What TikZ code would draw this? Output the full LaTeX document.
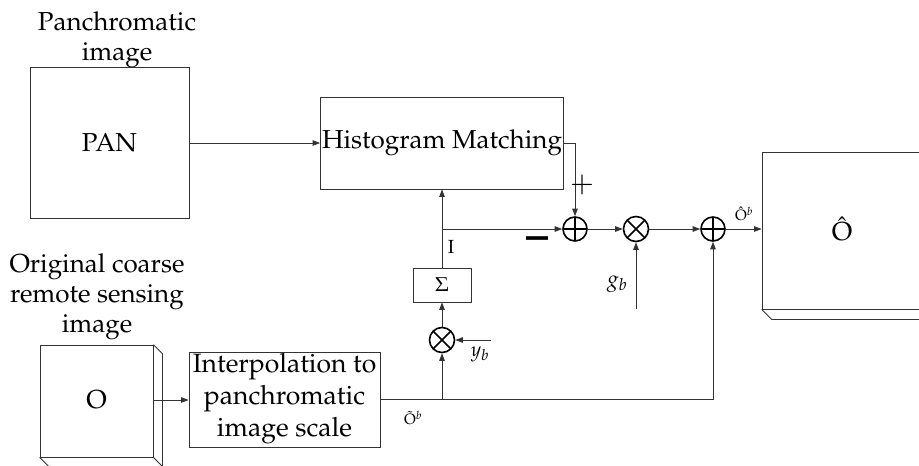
\documentclass[tikz,border=0pt]{standalone}
\usepackage[T1]{fontenc}
\usepackage{mathpazo}
\usetikzlibrary{arrows.meta}

\tikzset{
  wire/.style={draw=black!80, line width=0.8pt},
  arr/.style={wire, -{Triangle[length=7.5pt,width=5.5pt]}},
  blockbox/.style={draw=black!80, line width=0.8pt, rectangle, inner sep=0pt},
  bigtext/.style={font=\fontsize{26}{30}\selectfont, align=center, inner sep=0pt},
  sumnode/.style={circle, draw=black, line width=1.6pt, minimum size=24pt, inner sep=0pt,
    path picture={\draw[line width=1.5pt]
      (path picture bounding box.north) -- (path picture bounding box.south)
      (path picture bounding box.west) -- (path picture bounding box.east);}},
  mulnode/.style={circle, draw=black, line width=1.6pt, minimum size=25pt, inner sep=0pt,
    path picture={\draw[line width=1.5pt]
      (path picture bounding box.north west) -- (path picture bounding box.south east)
      (path picture bounding box.south west) -- (path picture bounding box.north east);}},
}

\begin{document}
\begin{tikzpicture}[x=1pt, y=-1pt]
\useasboundingbox (0,0) rectangle (919,466);
\clip (0,0) rectangle (919,466);

% blocks
\node[blockbox, minimum width=159pt, minimum height=151pt] (pan) at (109.5,142.5) {};
\node[bigtext] (pantext) at (109.5,143) {PAN};
\node[bigtext] (pantitle) at (117,40) {Panchromatic\\image};

\node[blockbox, minimum width=243pt, minimum height=92pt] (hist) at (442,143) {};
\node[bigtext] (histtext) at (442,143) {Histogram Matching};

\node[blockbox, minimum width=58pt, minimum height=34pt, font=\fontsize{20}{24}\selectfont] (sig) at (442,285) {$\Sigma$};

\node[blockbox, minimum width=191pt, minimum height=95pt] (interp) at (284.5,400) {};
\node[bigtext, font=\fontsize{26.5}{32}\selectfont] (interptext) at (284.5,399) {Interpolation to\\panchromatic\\image scale};

% original image (3D box)
\node[blockbox, minimum width=113pt, minimum height=112pt] (obox) at (96.5,401) {};
\node[bigtext] (otext) at (96.5,400) {O};
\node[bigtext] (otitle) at (97,297) {Original coarse\\remote sensing\\image};
\draw[wire] (obox.north east) -- ++(9,9) -- ++(0,130);
\draw[wire] (obox.south east) -- ++(9,9);
\draw[wire] (obox.south west) -- ++(9,9) -- ++(120,0);

% fused image (3D box)
\node[blockbox, minimum width=238pt, minimum height=157pt] (ohat) at (881,230.5) {};
\node[bigtext] (ohattext) at (842,229) {\^O};
\draw[wire] (ohat.south west) -- ++(10,10) -- ++(300,0);

% operators
\node[sumnode] (add1) at (575,229) {};
\node[mulnode] (mul1) at (636,229) {};
\node[sumnode] (add2) at (713,229) {};
\node[mulnode] (mul2) at (442,340) {};

% connectors
\draw[arr] (pan.east |- 0,143) -- (hist.west |- 0,143);
\draw[arr] (hist.east |- 0,143) -- (add1.north |- 0,143) -- (add1.north);
\coordinate (split) at (442,229);
\draw[arr] (sig.north) -- (hist.south);
\draw[arr] (split) -- (add1.west);
\draw[arr] (add1.east) -- (mul1.west);
\draw[arr] (mul1.east) -- (add2.west);
\draw[arr] (add2.east) -- (ohat.west |- add2.east);
\coordinate (gb) at (636,309);
\draw[arr] (gb) -- (mul1.south);
\coordinate (yb) at (491,340);
\draw[arr] (yb) -- (mul2.east);
\draw[arr] (mul2.north) -- (sig.south);
\draw[arr] (obox.east |- 0,400) -- (interp.west |- 0,400);
\coordinate (tap) at (442,399);
\draw[wire] (interp.east |- 0,399) -- (tap);
\draw[arr] (tap) -- (713,399) -- (add2.south);
\draw[arr] (tap) -- (mul2.south);

% labels
\node[inner sep=0pt, font=\fontsize{29}{29}\selectfont] (plus) at (582,185) {$+$};
\node[inner sep=0pt, font=\fontsize{44}{44}\selectfont] (minus) at (537,243) {\textbf{\textendash}};
\node[inner sep=0pt, font=\fontsize{19}{19}\selectfont] (ilabel) at (451,247) {I};
\node[inner sep=0pt, font=\fontsize{22}{22}\selectfont] (gblabel) at (617,284) {$g_b$};
\node[inner sep=0pt, font=\fontsize{20}{20}\selectfont] (yblabel) at (480,354) {$y_b$};
\node[inner sep=0pt, font=\fontsize{15}{15}\selectfont] (otlabel) at (413,418) {\~O$^{b}$};
\node[inner sep=0pt, font=\fontsize{15}{15}\selectfont] (ohlabel) at (744,214) {\^O$^{b}$};
\end{tikzpicture}
\end{document}
